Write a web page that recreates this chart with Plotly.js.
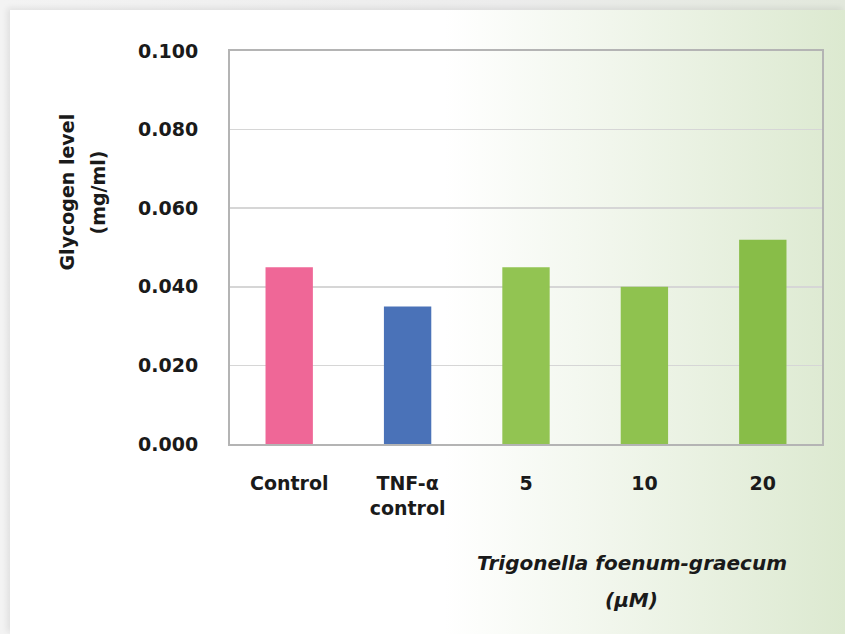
<!DOCTYPE html>
<html>
<head>
<meta charset="utf-8">
<script src="https://cdn.plot.ly/plotly-3.0.1.min.js"></script>
<style>
html,body{margin:0;padding:0;width:845px;height:634px;overflow:hidden;}
body{background:linear-gradient(to right,#f3f3f3 0%,#ececec 60%,#e2e8dc 100%);}
#card{position:absolute;left:10px;top:10px;width:835px;height:624px;
  background:linear-gradient(to right,#ffffff 0%,#ffffff 52%,#f1f6ec 72%,#dce9d0 100%);
  box-shadow:-3px -2px 6px rgba(0,0,0,0.08);}
#chart{position:absolute;left:0;top:0;width:845px;height:634px;}
</style>
</head>
<body>
<div id="card"></div>
<div id="chart"></div>
<script>
const categories = ["Control", "TNF-α<br>control", "5", "10", "20"];
const glycogen = [0.045, 0.035, 0.045, 0.040, 0.052];
const barColors = ["#ef6797", "#4a72b8", "#92c452", "#8fc24f", "#88bd48"];
const yTicks = [0, 0.02, 0.04, 0.06, 0.08, 0.1];
const yTickText = ["0.000", "0.020", "0.040", "0.060", "0.080", "0.100"];
const yTitleLines = ["Glycogen level", "(mg/ml)"];
const xTitleLines = ["Trigonella foenum-graecum", "(µM)"];

const FONT = "DejaVu Sans, sans-serif";

const trace = {
  type: "bar",
  x: categories,
  y: glycogen,
  marker: {color: barColors, line: {width: 0}},
  hoverinfo: "x+y"
};

const plotH = 634 - 51 - 190, plotW = 845 - 230 - 23;
const ann = [];
// y title lines (pixel x centres 67, 98)
[67, 98].forEach((px, i) => ann.push({
  text: "<b>" + yTitleLines[i] + "</b>",
  xref: "paper", yref: "paper", x: (px - 230) / plotW, y: 0.64,
  textangle: -90, showarrow: false,
  font: {family: FONT, size: 19, color: "#1a1a1a"},
  xanchor: "center", yanchor: "middle"
}));
// x title lines (pixel y centres 563, 600)
[563, 600].forEach((py, i) => ann.push({
  text: "<b><i>" + xTitleLines[i] + "</i></b>",
  xref: "paper", yref: "paper", x: 0.679, y: (444 - py) / plotH,
  showarrow: false,
  font: {family: FONT, size: 20, color: "#1a1a1a"},
  xanchor: "center", yanchor: "middle"
}));

const layout = {
  width: 845, height: 634,
  margin: {l: 230, r: 23, t: 51, b: 190},
  paper_bgcolor: "rgba(0,0,0,0)",
  plot_bgcolor: "rgba(0,0,0,0)",
  bargap: 0.6,
  showlegend: false,
  font: {family: FONT, color: "#1a1a1a"},
  xaxis: {
    type: "category",
    tickfont: {family: FONT, size: 19, weight: "bold", color: "#1a1a1a"},
    showline: true, linecolor: "#b4b4b4", linewidth: 2, mirror: true,
    ticks: "", ticklabelstandoff: 21,
    showgrid: false, zeroline: false
  },
  yaxis: {
    range: [0, 0.1],
    tickvals: yTicks, ticktext: yTickText,
    tickfont: {family: FONT, size: 19, weight: "bold", color: "#1a1a1a"},
    showline: true, linecolor: "#b4b4b4", linewidth: 2, mirror: true,
    showgrid: true, gridcolor: "#d6d6d6", gridwidth: 1.5,
    zeroline: false, ticks: "", ticklabelstandoff: 26
  },
  annotations: ann
};

Plotly.newPlot("chart", [trace], layout, {displayModeBar: false, staticPlot: true});
</script>
</body>
</html>
